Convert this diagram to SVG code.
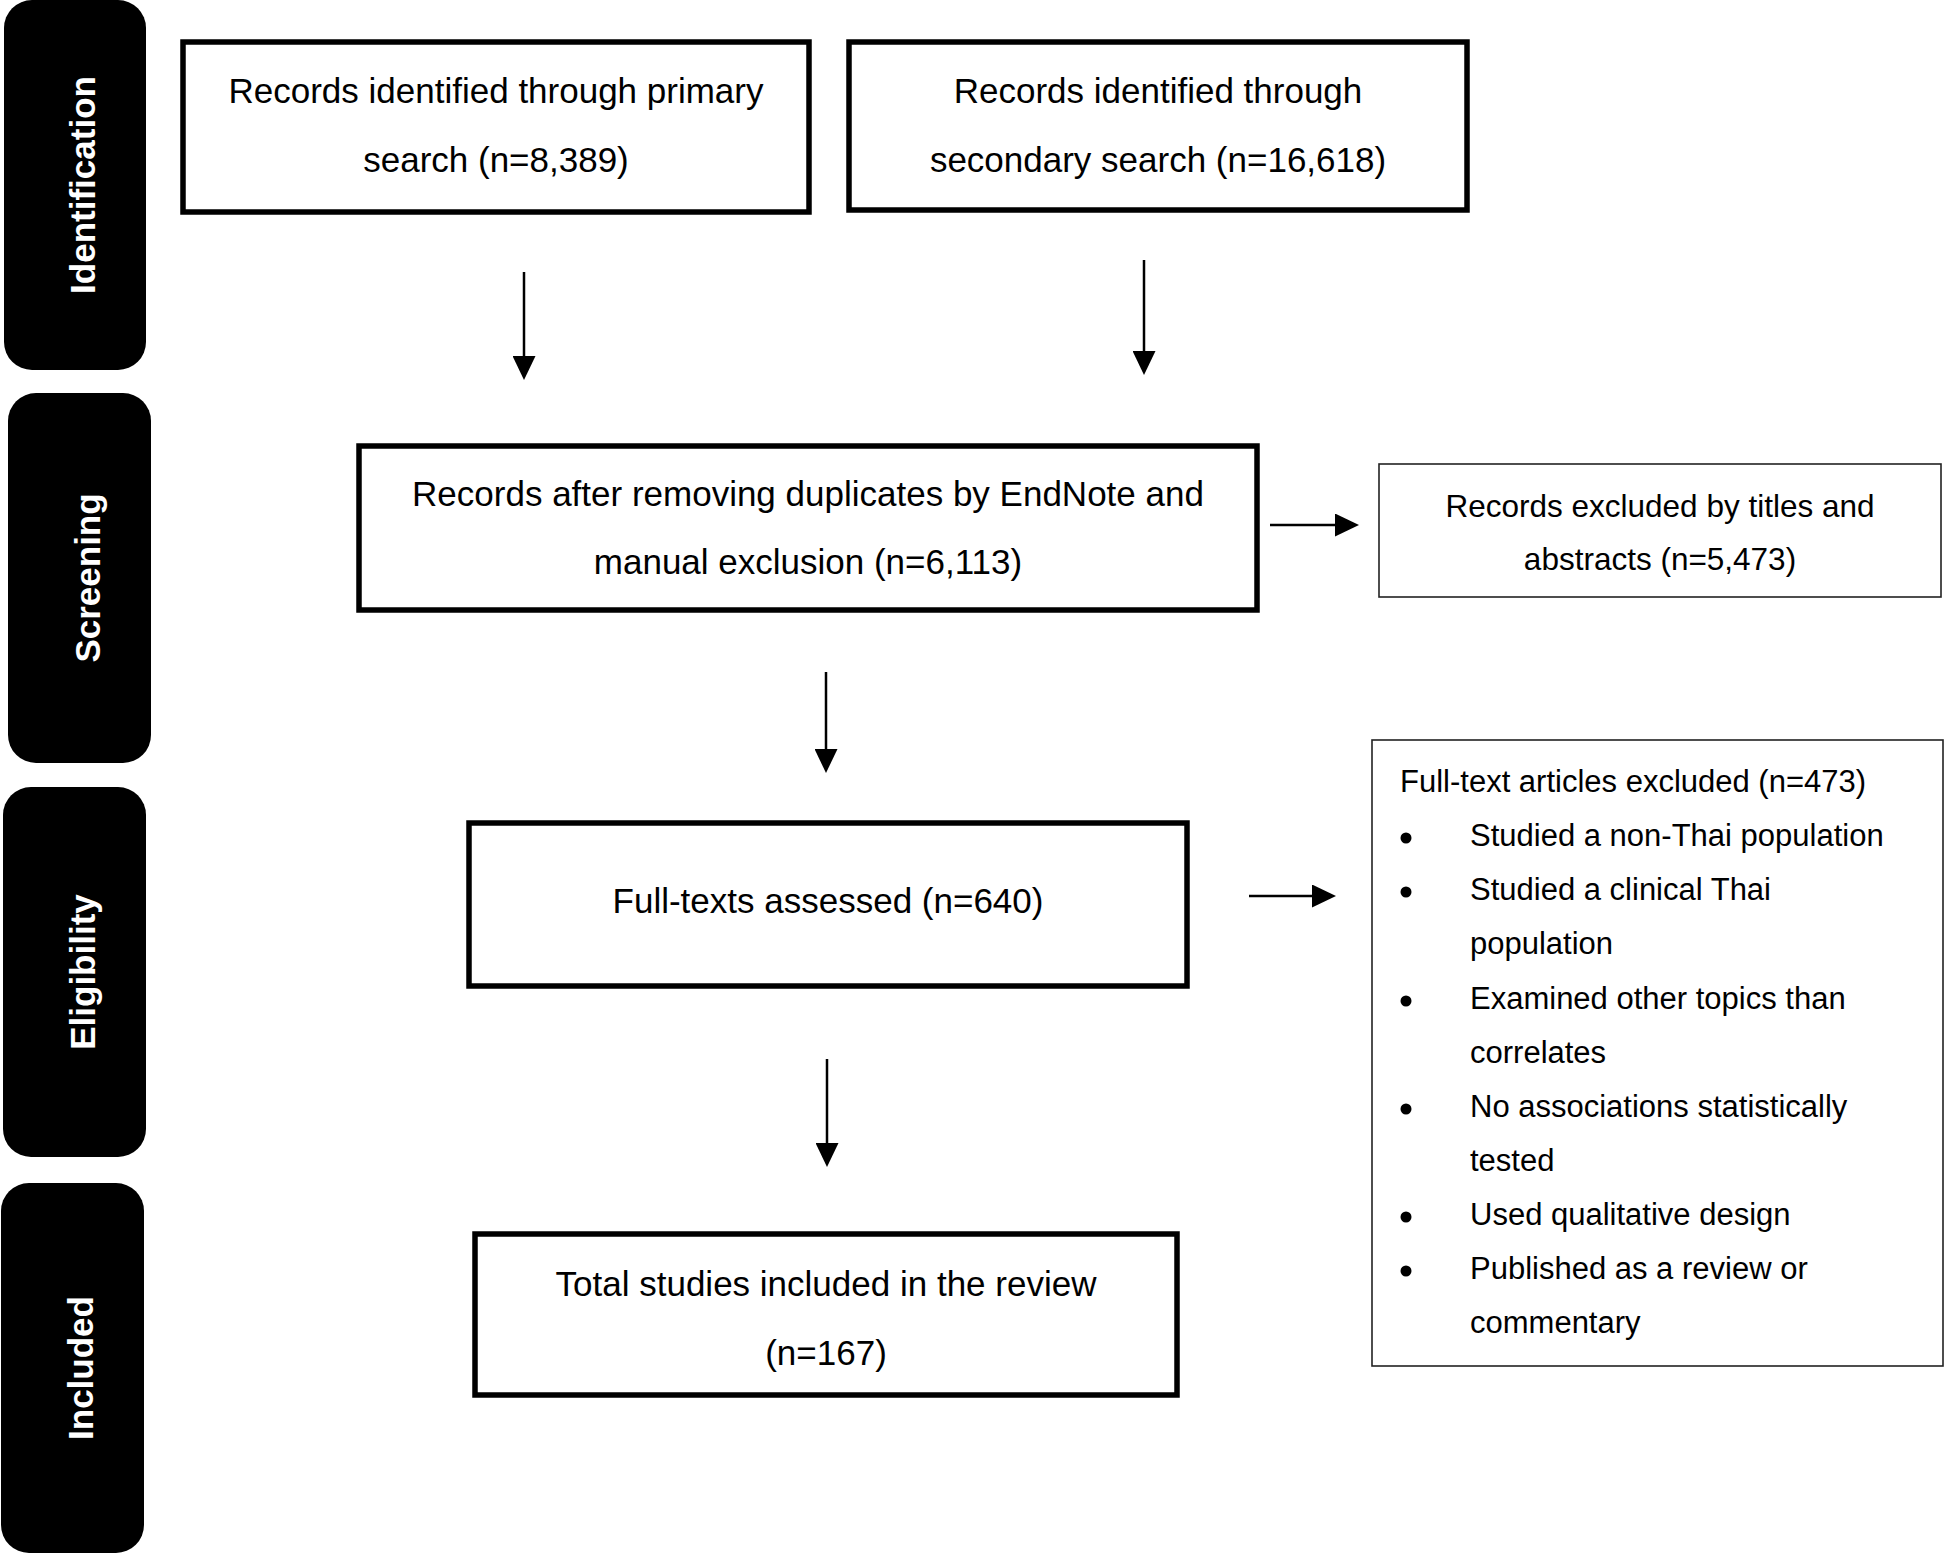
<svg xmlns="http://www.w3.org/2000/svg" width="1946" height="1554" viewBox="0 0 1946 1554">
<style>
.stage{fill:#000}
.stxt{fill:#fff;font-family:"Liberation Sans",Arial,sans-serif;font-weight:bold;font-size:35px;text-anchor:middle}
.main{fill:#fff;stroke:#000;stroke-width:5.5}
.thin{fill:#fff;stroke:#222;stroke-width:1.6}
.t35{font-family:"Liberation Sans",Arial,sans-serif;font-size:35px;fill:#000;text-anchor:middle}
.t31c{font-family:"Liberation Sans",Arial,sans-serif;font-size:31.5px;fill:#000;text-anchor:middle}
.t31{font-family:"Liberation Sans",Arial,sans-serif;font-size:31px;fill:#000}
.conn{stroke:#000;stroke-width:2.5;fill:none;marker-end:url(#ah)}
</style>
<defs>
<marker id="ah" markerUnits="userSpaceOnUse" viewBox="0 0 24 23" refX="2" refY="11.5" markerWidth="24" markerHeight="23" orient="auto">
<path d="M0,0 L24,11.5 L0,23 z" fill="#000"/>
</marker>
</defs>
<rect width="1946" height="1554" fill="#fff"/>

<g id="stage-identification">
<rect class="stage" x="4" y="0" width="142" height="370" rx="28"/>
<text class="stxt" transform="translate(75,185) rotate(-90)" y="20">Identification</text>
</g>
<g id="stage-screening">
<rect class="stage" x="8" y="393" width="143" height="370" rx="28"/>
<text class="stxt" transform="translate(79.5,578) rotate(-90)" y="20">Screening</text>
</g>
<g id="stage-eligibility">
<rect class="stage" x="3" y="787" width="143" height="370" rx="28"/>
<text class="stxt" transform="translate(74.5,972) rotate(-90)" y="20">Eligibility</text>
</g>
<g id="stage-included">
<rect class="stage" x="1" y="1183" width="143" height="370" rx="28"/>
<text class="stxt" transform="translate(72.5,1368) rotate(-90)" y="20">Included</text>
</g>

<g id="primary-search">
<rect class="main" x="183" y="42" width="626" height="170"/>
<text class="t35" x="496" y="103">Records identified through primary</text>
<text class="t35" x="496" y="172">search (n=8,389)</text>
</g>
<g id="secondary-search">
<rect class="main" x="849" y="42" width="618" height="168"/>
<text class="t35" x="1158" y="103">Records identified through</text>
<text class="t35" x="1158" y="172">secondary search (n=16,618)</text>
</g>
<g id="after-duplicates">
<rect class="main" x="359" y="446" width="898" height="164"/>
<text class="t35" x="808" y="506">Records after removing duplicates by EndNote and</text>
<text class="t35" x="808" y="574">manual exclusion (n=6,113)</text>
</g>
<g id="excluded-titles">
<rect class="thin" x="1379" y="464" width="562" height="133"/>
<text class="t31c" x="1660" y="517">Records excluded by titles and</text>
<text class="t31c" x="1660" y="570">abstracts (n=5,473)</text>
</g>
<g id="full-texts">
<rect class="main" x="469" y="823" width="718" height="163"/>
<text class="t35" x="828" y="913">Full-texts assessed (n=640)</text>
</g>
<g id="excluded-fulltext">
<rect class="thin" x="1372" y="740" width="571" height="626"/>
<text class="t31" x="1400" y="792">Full-text articles excluded (n=473)</text>
<circle cx="1406" cy="838" r="5.5"/>
<text class="t31" x="1470" y="846">Studied a non-Thai population</text>
<circle cx="1406" cy="892" r="5.5"/>
<text class="t31" x="1470" y="900">Studied a clinical Thai</text>
<text class="t31" x="1470" y="954">population</text>
<circle cx="1406" cy="1001" r="5.5"/>
<text class="t31" x="1470" y="1009">Examined other topics than</text>
<text class="t31" x="1470" y="1063">correlates</text>
<circle cx="1406" cy="1109" r="5.5"/>
<text class="t31" x="1470" y="1117">No associations statistically</text>
<text class="t31" x="1470" y="1171">tested</text>
<circle cx="1406" cy="1217" r="5.5"/>
<text class="t31" x="1470" y="1225">Used qualitative design</text>
<circle cx="1406" cy="1271" r="5.5"/>
<text class="t31" x="1470" y="1279">Published as a review or</text>
<text class="t31" x="1470" y="1333">commentary</text>
</g>
<g id="included-total">
<rect class="main" x="475" y="1234" width="702" height="161"/>
<text class="t35" x="826" y="1296">Total studies included in the review</text>
<text class="t35" x="826" y="1365">(n=167)</text>
</g>

<g id="connectors">
<line class="conn" x1="524" y1="272" x2="524" y2="358"/>
<line class="conn" x1="1144" y1="260" x2="1144" y2="353"/>
<line class="conn" x1="826" y1="672" x2="826" y2="751"/>
<line class="conn" x1="827" y1="1059" x2="827" y2="1145"/>
<line class="conn" x1="1270" y1="525" x2="1337" y2="525"/>
<line class="conn" x1="1249" y1="896" x2="1314" y2="896"/>
</g>
</svg>
